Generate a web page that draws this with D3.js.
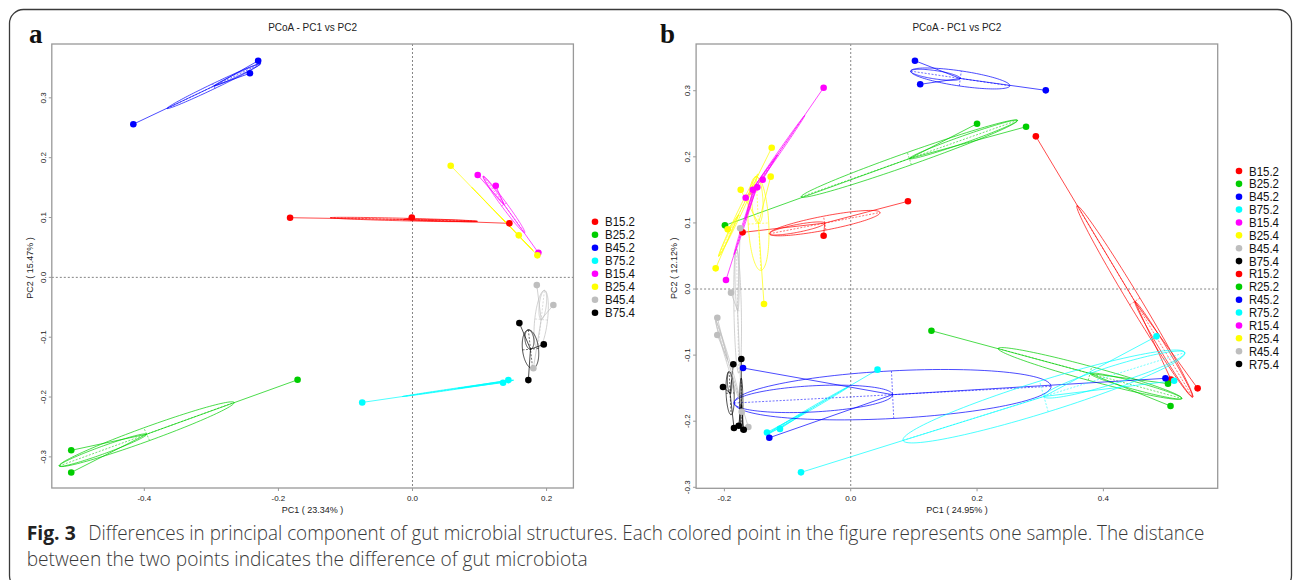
<!DOCTYPE html>
<html>
<head>
<meta charset="utf-8">
<script src="https://cdn.jsdelivr.net/npm/d3@7/dist/d3.min.js"></script>
<style>
	body { margin: 0; background: #fff; }
	svg { display: block; }
	text { font-family: "Liberation Sans", Arial, sans-serif; }
</style>
</head>
<body>
<div id="fig"></div>
<script>

// sample groups, panel a
var groupsA = ['B15.2', 'B25.2', 'B45.2', 'B75.2', 'B15.4', 'B25.4', 'B45.4', 'B75.4'];
var pc1A = [
	[-0.1826, -0.001, 0.1445],
	[-0.1714, -0.509, -0.509],
	[-0.4164, -0.2302, -0.2425],
	[-0.075, 0.1351, 0.143],
	[0.0973, 0.1242, 0.1878],
	[0.057, 0.1585, 0.1863],
	[0.1854, 0.2101, 0.1803],
	[0.1594, 0.1958, 0.1728]
];
var pc2A = [
	[0.0997, 0.100, 0.0903],
	[-0.1712, -0.289, -0.326],
	[0.256, 0.362, 0.341],
	[-0.209, -0.176, -0.1717],
	[0.171, 0.1532, 0.0411],
	[0.1866, 0.0702, 0.0368],
	[-0.0129, -0.0463, -0.152],
	[-0.0764, -0.112, -0.1717]
];

// sample groups, panel b
var groupsB = ['B15.2', 'B25.2', 'B45.2', 'B75.2', 'B15.4', 'B25.4', 'B45.4', 'B75.4',
	'R15.2', 'R25.2', 'R45.2', 'R75.2', 'R15.4', 'R25.4', 'R45.4', 'R75.4'];
var pc1B = [
	[0.0906, -0.0429, -0.1712],
	[0.200, 0.2776, -0.1992],
	[0.1017, 0.110, 0.3088],
	[0.0424, -0.1326, -0.112],
	[-0.0429, -0.1394, -0.1663],
	[-0.1267, -0.1373, -0.1742],
	[-0.175, -0.1895, -0.1726],
	[-0.1859, -0.2022, -0.1848],
	[0.2931, 0.5492, 0.507],
	[0.1278, 0.5023, 0.5063],
	[-0.1705, -0.1289, 0.4983],
	[-0.0787, 0.4841, 0.512],
	[-0.1479, -0.1975, -0.155],
	[-0.1251, -0.1948, -0.2138],
	[-0.2112, -0.2112, -0.1621],
	[-0.1732, -0.1774, -0.1694]
];
var pc2B = [
	[0.1327, 0.0807, 0.0857],
	[0.2501, 0.2455, 0.0963],
	[0.3454, 0.3097, 0.3006],
	[-0.122, -0.217, -0.2116],
	[0.3046, 0.1654, 0.1381],
	[0.170, -0.0227, 0.150],
	[0.092, -0.0055, -0.1856],
	[-0.1139, -0.1483, -0.2103],
	[0.231, -0.1503, -0.137],
	[-0.0631, -0.1432, -0.177],
	[-0.1195, -0.225, -0.1351],
	[-0.2774, -0.0716, -0.1387],
	[0.1538, 0.0136, 0.150],
	[0.2138, 0.0903, 0.0313],
	[-0.0434, -0.0696, -0.2088],
	[-0.1059, -0.2068, -0.2129]
];

var palette = ['#ff0000', '#00cd00', '#0000ff', '#00ffff', '#ff00ff', '#ffff00', '#bebebe', '#000000'];

var xTicksA = [-0.4, -0.2, 0.0, 0.2];
var xTicksB = [-0.2, 0.0, 0.2, 0.4];
var yTicks = [-0.3, -0.2, -0.1, 0.0, 0.1, 0.2, 0.3];

var titleText = 'PCoA - PC1 vs PC2';
var pc1LabelA = 'PC1 ( 23.34% )', pc2LabelA = 'PC2 ( 15.47% )';
var pc1LabelB = 'PC1 ( 24.95% )', pc2LabelB = 'PC2 ( 12.12% )';

var width = 1295, height = 580;
var K = 0.82; // ellipse size factor

var svg = d3.select('#fig').append('svg')
	.attr('width', width)
	.attr('height', height)
	.attr('viewBox', `0 0 ${width} ${height}`);

// rounded border of the figure
svg.append('rect')
	.attr('x', 9.5).attr('y', 9.5)
	.attr('width', 1282).attr('height', 580)
	.attr('rx', 14)
	.attr('fill', 'none')
	.attr('stroke', '#3a3a3a')
	.attr('stroke-width', 1.3);

function groupGeom(xs, ys) {
	var n = xs.length;
	var cx = d3.mean(xs), cy = d3.mean(ys);
	var sxx = 0, syy = 0, sxy = 0;
	for (var i = 0; i < n; i++) {
		var dx = xs[i] - cx, dy = ys[i] - cy;
		sxx += dx * dx; syy += dy * dy; sxy += dx * dy;
	}
	sxx /= n; syy /= n; sxy /= n;
	var tr = sxx + syy, det = sxx * syy - sxy * sxy;
	var disc = Math.sqrt(Math.max(0, tr * tr / 4 - det));
	var l1 = tr / 2 + disc, l2 = Math.max(0, tr / 2 - disc);
	var v1;
	if (Math.abs(sxy) > 1e-12) v1 = [l1 - syy, sxy];
	else v1 = sxx >= syy ? [1, 0] : [0, 1];
	var len = Math.hypot(v1[0], v1[1]);
	v1 = [v1[0] / len, v1[1] / len];
	var v2 = [-v1[1], v1[0]];
	// side of the two clustered points (away from the farthest one)
	var dists = xs.map(function(v, j) { return Math.hypot(v - cx, ys[j] - cy); });
	var far = d3.maxIndex(dists);
	var s = ((xs[far] - cx) * v1[0] + (ys[far] - cy) * v1[1]) > 0 ? -1 : 1;
	return {cx: cx, cy: cy, a: K * Math.sqrt(l1), b: K * Math.sqrt(l2), v1: v1, v2: v2, side: s};
}

function ellipsePts(cx, cy, a, b, v1, v2, x, y) {
	return d3.range(0, 120).map(function(k) {
		var t = k / 120 * 2 * Math.PI;
		var c = Math.cos(t) * a, s = Math.sin(t) * b;
		return [x(cx + c * v1[0] + s * v2[0]), y(cy + c * v1[1] + s * v2[1])];
	});
}

function drawPanel(cfg) {
	var x = d3.scaleLinear().domain(cfg.xDomain).range([cfg.left, cfg.right]);
	var y = d3.scaleLinear().domain(cfg.yDomain).range([cfg.bottom, cfg.top]);
	var g = svg.append('g');

	// zero reference lines
	g.append('line')
		.attr('x1', x(0)).attr('x2', x(0)).attr('y1', cfg.top).attr('y2', cfg.bottom)
		.attr('stroke', '#666').attr('stroke-width', 0.8).attr('stroke-dasharray', '2,2');
	g.append('line')
		.attr('x1', cfg.left).attr('x2', cfg.right).attr('y1', y(0)).attr('y2', y(0))
		.attr('stroke', '#666').attr('stroke-width', 0.8).attr('stroke-dasharray', '2,2');

	var closed = d3.line().curve(d3.curveLinearClosed);
	var lineOpacity = 0.7;

	cfg.groups.forEach(function(name, i) {
		var xs = cfg.pc1[i], ys = cfg.pc2[i];
		var col = palette[i % palette.length];
		var ge = groupGeom(xs, ys);
		var gg = g.append('g')
			.attr('stroke', col)
			.attr('stroke-opacity', lineOpacity)
			.attr('fill', 'none')
			.attr('stroke-width', 1);

		// star lines to the centroid
		xs.forEach(function(v, j) {
			gg.append('line')
				.attr('x1', x(ge.cx)).attr('y1', y(ge.cy))
				.attr('x2', x(v)).attr('y2', y(ys[j]));
		});

		// ellipse and its axes
		gg.append('path')
			.attr('d', closed(ellipsePts(ge.cx, ge.cy, ge.a, ge.b, ge.v1, ge.v2, x, y)));
		var c2x = ge.cx + ge.side * ge.a / 2 * ge.v1[0];
		var c2y = ge.cy + ge.side * ge.a / 2 * ge.v1[1];
		gg.append('path')
			.attr('d', closed(ellipsePts(c2x, c2y, ge.a / 2, ge.b * 0.55, ge.v1, ge.v2, x, y)));
		[[ge.v1, ge.a], [ge.v2, ge.b]].forEach(function(ax) {
			gg.append('line')
				.attr('x1', x(ge.cx - ax[0][0] * ax[1])).attr('y1', y(ge.cy - ax[0][1] * ax[1]))
				.attr('x2', x(ge.cx + ax[0][0] * ax[1])).attr('y2', y(ge.cy + ax[0][1] * ax[1]))
				.attr('stroke-dasharray', '2,1.5')
				.attr('stroke-width', 0.8);
		});
	});

	// sample points on top
	cfg.groups.forEach(function(name, i) {
		var col = palette[i % palette.length];
		g.selectAll(null)
			.data(d3.zip(cfg.pc1[i], cfg.pc2[i]))
			.enter()
			.append('circle')
			.attr('cx', function(d) { return x(d[0]); })
			.attr('cy', function(d) { return y(d[1]); })
			.attr('r', 3.3)
			.attr('fill', col);
	});

	// frame
	g.append('rect')
		.attr('x', cfg.left).attr('y', cfg.top)
		.attr('width', cfg.right - cfg.left).attr('height', cfg.bottom - cfg.top)
		.attr('fill', 'none').attr('stroke', '#999').attr('stroke-width', 1.3);

	// x axis
	cfg.xTicks.forEach(function(t) {
		g.append('line')
			.attr('x1', x(t)).attr('x2', x(t)).attr('y1', cfg.bottom).attr('y2', cfg.bottom + 3)
			.attr('stroke', '#999');
		g.append('text')
			.attr('x', x(t)).attr('y', 500.5)
			.attr('text-anchor', 'middle')
			.attr('font-size', 8).attr('fill', '#222')
			.text(t.toFixed(1));
	});
	// y axis
	yTicks.forEach(function(t) {
		g.append('line')
			.attr('x1', cfg.left - 3).attr('x2', cfg.left).attr('y1', y(t)).attr('y2', y(t))
			.attr('stroke', '#999');
		g.append('text')
			.attr('transform', `translate(${cfg.left - 9},${y(t)}) rotate(-90)`)
			.attr('text-anchor', 'middle')
			.attr('dy', '0.35em')
			.attr('font-size', 8).attr('fill', '#222')
			.text(t.toFixed(1));
	});

	g.append('text')
		.attr('x', (cfg.left + cfg.right) / 2).attr('y', 31)
		.attr('text-anchor', 'middle')
		.attr('font-size', 10).attr('fill', '#222')
		.text(titleText);
	g.append('text')
		.attr('x', (cfg.left + cfg.right) / 2).attr('y', 513)
		.attr('text-anchor', 'middle')
		.attr('font-size', 9).attr('fill', '#222')
		.text(cfg.pc1Label);
	g.append('text')
		.attr('transform', `translate(${cfg.ylabX},${(cfg.top + cfg.bottom) / 2 + 2}) rotate(-90)`)
		.attr('text-anchor', 'middle')
		.attr('dy', '0.35em')
		.attr('font-size', 9).attr('fill', '#222')
		.text(cfg.pc2Label);

	// panel letter
	g.append('text')
		.attr('x', cfg.letterX).attr('y', 42.7)
		.style('font-family', '"Liberation Serif", "Times New Roman", serif')
		.attr('font-weight', 'bold')
		.attr('font-size', 27)
		.attr('fill', '#111')
		.text(cfg.letter);

	// legend
	var leg = g.append('g');
	cfg.groups.forEach(function(name, i) {
		var ly = cfg.legendTop + i * cfg.legendStep;
		leg.append('circle')
			.attr('cx', cfg.legendX).attr('cy', ly).attr('r', 3.3)
			.attr('fill', palette[i % palette.length]);
		leg.append('text')
			.attr('x', cfg.legendX + 10).attr('y', ly)
			.attr('dy', '0.36em')
			.attr('font-size', 12.5).attr('fill', '#111')
			.attr('textLength', 30).attr('lengthAdjust', 'spacingAndGlyphs')
			.text(name);
	});
}

drawPanel({
	groups: groupsA, pc1: pc1A, pc2: pc2A,
	xDomain: [-0.538, 0.240], yDomain: [-0.352, 0.390],
	left: 51.8, right: 573.4, top: 44, bottom: 488,
	xTicks: xTicksA, pc1Label: pc1LabelA, pc2Label: pc2LabelA,
	ylabX: 29.5, letter: 'a', letterX: 29,
	legendX: 595, legendTop: 221.7, legendStep: 13
});

drawPanel({
	groups: groupsB, pc1: pc1B, pc2: pc2B,
	xDomain: [-0.2448, 0.581], yDomain: [-0.3015, 0.3707],
	left: 696.1, right: 1217.7, top: 44, bottom: 488.3,
	xTicks: xTicksB, pc1Label: pc1LabelB, pc2Label: pc2LabelB,
	ylabX: 674.3, letter: 'b', letterX: 660,
	legendX: 1239, legendTop: 171, legendStep: 12.87
});

// caption
var cap = svg.append('g');
cap.append('text')
	.attr('x', 26.7).attr('y', 540)
	.attr('font-size', 19.5).attr('font-weight', 'bold').attr('fill', '#222')
	.style('font-family', '"Open Sans", sans-serif')
	.attr('textLength', 49).attr('lengthAdjust', 'spacingAndGlyphs')
	.text('Fig. 3');
cap.append('text')
	.attr('x', 88.3).attr('y', 540)
	.attr('font-size', 19.5).attr('font-weight', 300).attr('fill', '#3a3a3a')
	.style('font-family', '"Open Sans", sans-serif')
	.attr('textLength', 1116).attr('lengthAdjust', 'spacingAndGlyphs')
	.text('Differences in principal component of gut microbial structures. Each colored point in the figure represents one sample. The distance');
cap.append('text')
	.attr('x', 26.7).attr('y', 566)
	.attr('font-size', 19.5).attr('font-weight', 300).attr('fill', '#3a3a3a')
	.style('font-family', '"Open Sans", sans-serif')
	.attr('textLength', 561).attr('lengthAdjust', 'spacingAndGlyphs')
	.text('between the two points indicates the difference of gut microbiota');

</script>
</body>
</html>
